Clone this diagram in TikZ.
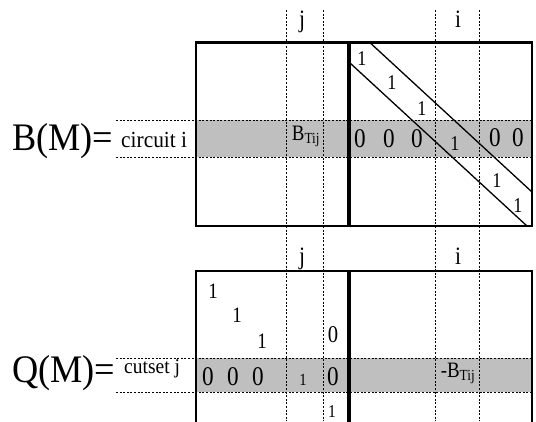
\documentclass[tikz,border=0pt]{standalone}
\usepackage{fontspec}
\setmainfont{Liberation Serif}
\newfontfamily\tallserif{Liberation Serif}[FakeStretch=0.86]
\newfontfamily\labelserif{Liberation Serif}[FakeStretch=0.93]
\newcommand{\fsz}[1]{\fontsize{#1}{#1}\selectfont}
\begin{document}
\begin{tikzpicture}[x=1pt,y=-1pt,
  frame/.style={line width=2.6pt},
  divider/.style={line width=4pt},
  guide/.style={line width=0.7pt, dash pattern=on 2pt off 1.6pt},
  diagline/.style={line width=1.3pt},
  band/.style={fill=black!25},
  txt/.style={inner sep=0pt, anchor=base},
  eqlabel/.style={inner sep=0pt, anchor=base west, font=\labelserif\fsz{39}},
  rowlabel/.style={inner sep=0pt, anchor=base west},
  collabel/.style={txt, font=\tallserif\fsz{25}},
  bigdigit/.style={txt, font=\tallserif\fsz{27}},
  digit/.style={txt, font=\tallserif\fsz{21}},
  block/.style={txt, font=\tallserif\fsz{22}}
]
\useasboundingbox (0,0) rectangle (536,421);

% shaded rows: circuit i and cutset j
\fill[band] (196,120) rectangle (532,157);
\fill[band] (196,358) rectangle (532,392);

% column guides for j and i
\foreach \x/\n in {286/ja,323/jb,435/ia,479/ib} {
  \coordinate (\n-top) at (\x,10);
  \coordinate (\n-bot) at (\x,421);
  \draw[guide] (\n-top) -- (\n-bot);
}

% row guides
\foreach \y/\n in {120/ca,157/cb,358/qa,392/qb} {
  \coordinate (\n-left) at (116,\y);
  \coordinate (\n-right) at (532,\y);
  \draw[guide] (\n-left) -- (\n-right);
}

% B(M) frame
\coordinate (bnw) at (196,42.7);
\coordinate (bse) at (532,226);
\draw[frame] (bnw) rectangle (bse);
\coordinate (bdt) at (348.5,42.7);
\coordinate (bdb) at (348.5,226);
\draw[divider] (bdt) -- (bdb);

% unit band of B(M)
\coordinate (ua) at (370,42.7);
\coordinate (ub) at (532,192);
\coordinate (uc) at (350,63);
\coordinate (ud) at (527,226);
\draw[diagline] (ua) -- (ub);
\draw[diagline] (uc) -- (ud);

% Q(M) frame, open at the bottom
\coordinate (qsw) at (196,425);
\coordinate (qnw) at (196,271);
\coordinate (qne) at (532,271);
\coordinate (qse) at (532,425);
\draw[frame] (qsw) -- (qnw) -- (qne) -- (qse);
\coordinate (qdt) at (348.5,271);
\coordinate (qdb) at (348.5,425);
\draw[divider] (qdt) -- (qdb);

% left-hand labels
\node[eqlabel] (bm) at (12,150) {B(M)=};
\node[rowlabel, font=\labelserif\fsz{23}] (circ) at (121,147) {circuit i};
\node[eqlabel] (qm) at (12,382) {Q(M)=};
\node[rowlabel, font=\labelserif\fsz{21}] (cut) at (124,373) {cutset j};

% column labels
\node[collabel] (bj) at (302,27) {j};
\node[collabel] (bi) at (458,27) {i};
\node[collabel] (qj) at (302,264) {j};
\node[collabel] (qi) at (458,264) {i};

% entries of B(M)
\node[block] (btij) at (306,140) {B\textsubscript{Tij}};
\node[digit] (b1) at (362,65) {1};
\node[digit] (b2) at (392,89) {1};
\node[digit] (b3) at (422,115) {1};
\node[bigdigit] (b0a) at (360,147) {0};
\node[bigdigit] (b0b) at (389,147) {0};
\node[bigdigit] (b0c) at (417,147) {0};
\node[digit] (b4) at (455,150) {1};
\node[bigdigit] (b0d) at (495,146) {0};
\node[bigdigit] (b0e) at (518,146) {0};
\node[digit] (b5) at (497,187) {1};
\node[digit] (b6) at (518,212) {1};

% entries of Q(M)
\node[block] (q1) at (213,298) {1};
\node[block] (q2) at (237,322) {1};
\node[block] (q3) at (262,348) {1};
\node[txt, font=\tallserif\fsz{24}] (q0top) at (333,342) {0};
\node[bigdigit] (q0a) at (208,385) {0};
\node[bigdigit] (q0b) at (233,385) {0};
\node[bigdigit] (q0c) at (258,385) {0};
\node[txt, font=\tallserif\fsz{17}] (q4) at (303,385) {1};
\node[bigdigit] (q0d) at (333,385) {0};
\node[txt, font=\tallserif\fsz{18}] (q5) at (332,417) {1};
\node[block] (mbtij) at (458,377) {-B\textsubscript{Tij}};
\end{tikzpicture}
\end{document}
